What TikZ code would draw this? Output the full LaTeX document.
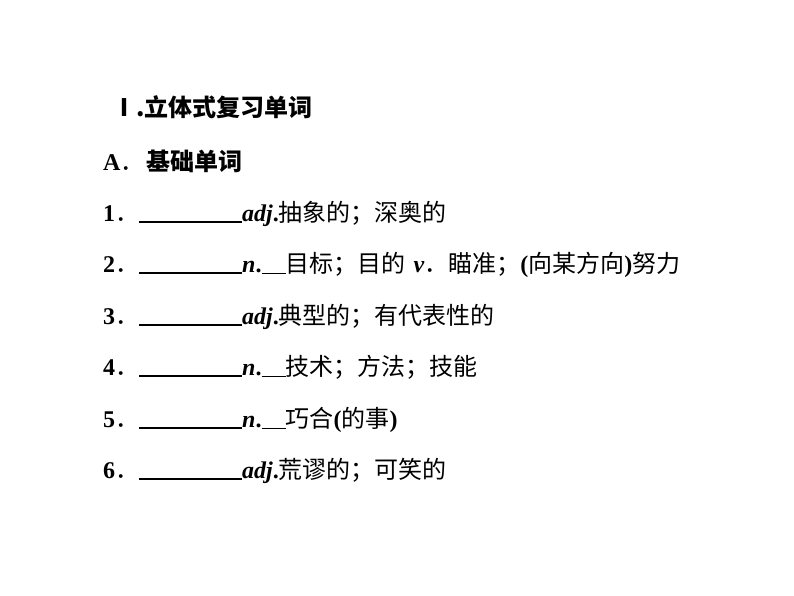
\documentclass[tikz,border=0pt]{standalone}
\usepackage{fontspec}
\setmainfont{Liberation Serif}
\newfontfamily\cjk{Noto Sans CJK SC}
\newcommand{\blank}{\rule[-2pt]{103pt}{1.6pt}}
\newcommand{\gap}{\underline{\hspace{24pt}}}
\newcommand{\fdot}{{\cjk ．}}
\tikzset{line/.style={anchor=base west,inner sep=0pt,font=\fontsize{24}{28}\selectfont}}
\begin{document}
\begin{tikzpicture}[x=1pt,y=-1pt]
\useasboundingbox (0,0) rectangle (794,596);

%heading
\node[line] (head) at (112,117) {{\cjk\bfseries Ⅰ.立体式复习单词}};
\node[line] (secA) at (103,171) {\textbf{A}\fdot\hspace{2pt}{\cjk\bfseries 基础单词}};

%items
\node[line] (row1) at (103,221) {\textbf{1}\fdot\blank\textbf{\textit{adj}.}{\cjk 抽象的；深奥的}};
\node[line] (row2) at (103,272) {\textbf{2}\fdot\blank\textbf{\textit{n}.}\gap{\cjk 目标；目的}\hspace{8pt}\textbf{\textit{v}}\fdot{\cjk 瞄准；}\textbf{(}{\cjk 向某方向}\textbf{)}{\cjk 努力}};
\node[line] (row3) at (103,324) {\textbf{3}\fdot\blank\textbf{\textit{adj}.}{\cjk 典型的；有代表性的}};
\node[line] (row4) at (103,375) {\textbf{4}\fdot\blank\textbf{\textit{n}.}\gap{\cjk 技术；方法；技能}};
\node[line] (row5) at (103,427) {\textbf{5}\fdot\blank\textbf{\textit{n}.}\gap{\cjk 巧合}\textbf{(}{\cjk 的事}\textbf{)}};
\node[line] (row6) at (103,478) {\textbf{6}\fdot\blank\textbf{\textit{adj}.}{\cjk 荒谬的；可笑的}};
\end{tikzpicture}
\end{document}
